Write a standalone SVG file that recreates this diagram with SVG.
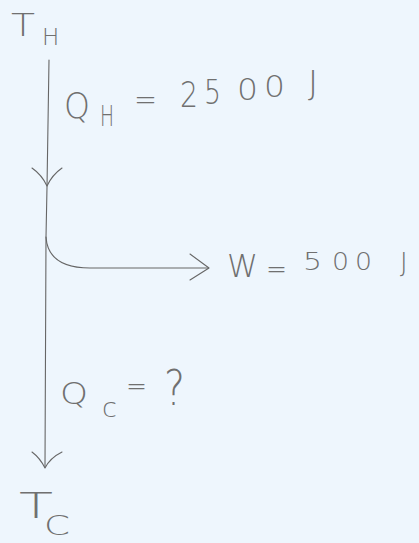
<svg xmlns="http://www.w3.org/2000/svg" width="419" height="543" viewBox="0 0 419 543">
<style>
.t{font-family:"DejaVu Sans","Liberation Sans",sans-serif;font-weight:200;fill:#707070}
.c{fill:none;stroke:#666;stroke-width:1.1;stroke-linecap:round;stroke-linejoin:round}
</style>
<rect width="419" height="543" fill="#eef6fd"/>
<g id="connectors">
<path class="c" d="M49,60 L47,187 L46,237 L45,467"/>
<path class="c" d="M32,168 Q42,175 47,186 Q52,175 62,168"/>
<path class="c" d="M46,237 Q48,268 90,268 L208,268"/>
<path class="c" d="M190,254 L209,268 L190,280"/>
<path class="c" d="M32,452 Q40,458 45,468 Q50,458 62,452"/>
</g>
<g id="TH">
<text class="t" x="11" y="36" font-size="32" textLength="24" lengthAdjust="spacingAndGlyphs">T</text>
<text class="t" x="42" y="45" font-size="23">H</text>
</g>
<g id="QH">
<text class="t" x="64" y="118" font-size="35" textLength="26" lengthAdjust="spacingAndGlyphs">Q</text>
<text class="t" x="100" y="126" font-size="28" textLength="14" lengthAdjust="spacingAndGlyphs">H</text>
<text class="t" x="134" y="110" font-size="30" textLength="23" lengthAdjust="spacingAndGlyphs">=</text>
<text class="t" x="180" y="107" font-size="35" textLength="18" lengthAdjust="spacingAndGlyphs">2</text>
<text class="t" x="204" y="104" font-size="34" textLength="17" lengthAdjust="spacingAndGlyphs">5</text>
<text class="t" x="237" y="100" font-size="31" textLength="21" lengthAdjust="spacingAndGlyphs">0</text>
<text class="t" x="264" y="97" font-size="31" textLength="21" lengthAdjust="spacingAndGlyphs">0</text>
<text class="t" x="308" y="95" font-size="34">J</text>
</g>
<g id="W">
<text class="t" x="227" y="277" font-size="32" textLength="31" lengthAdjust="spacingAndGlyphs">W</text>
<text class="t" x="266" y="278" font-size="28" textLength="21" lengthAdjust="spacingAndGlyphs">=</text>
<text class="t" x="303" y="270" font-size="24" textLength="19" lengthAdjust="spacingAndGlyphs">5</text>
<text class="t" x="332" y="270" font-size="25" textLength="17" lengthAdjust="spacingAndGlyphs">0</text>
<text class="t" x="355" y="270" font-size="25" textLength="17" lengthAdjust="spacingAndGlyphs">0</text>
<text class="t" x="400" y="272" font-size="26">J</text>
</g>
<g id="QC">
<text class="t" x="60" y="404" font-size="31" textLength="28" lengthAdjust="spacingAndGlyphs">Q</text>
<text class="t" x="102" y="417" font-size="27" textLength="15" lengthAdjust="spacingAndGlyphs">c</text>
<text class="t" x="126" y="395" font-size="28" textLength="21" lengthAdjust="spacingAndGlyphs">=</text>
<text class="t" x="164" y="405" font-size="50" textLength="21" lengthAdjust="spacingAndGlyphs">?</text>
</g>
<g id="TC">
<text class="t" x="19" y="518" font-size="36" textLength="34" lengthAdjust="spacingAndGlyphs">T</text>
<text class="t" x="44" y="535" font-size="26" textLength="26" lengthAdjust="spacingAndGlyphs">C</text>
</g>
</svg>
